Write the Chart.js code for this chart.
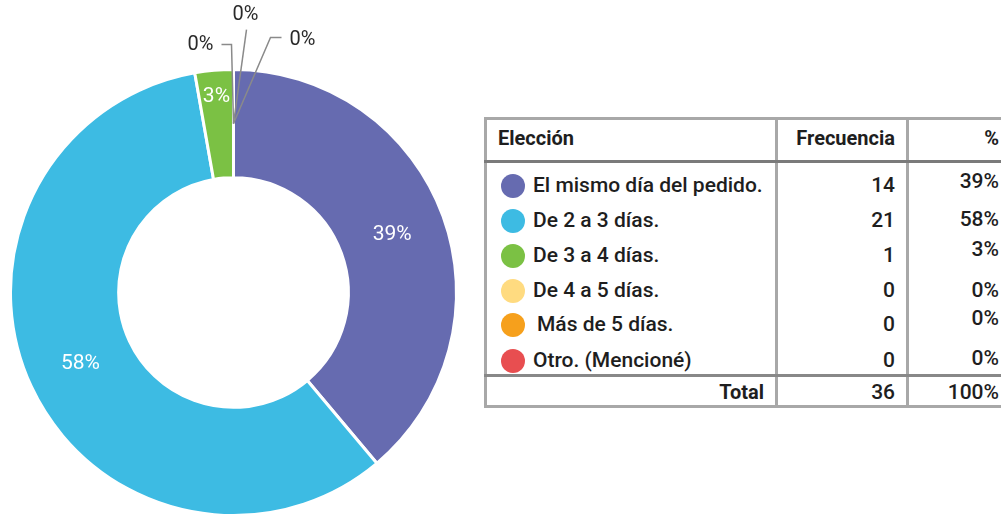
<!DOCTYPE html>
<html>
<head>
<meta charset="utf-8">
<script src="https://cdn.jsdelivr.net/npm/chart.js@4.4.1/dist/chart.umd.min.js"></script>
<style>
  html,body{margin:0;padding:0;background:#fff;width:1001px;height:517px;overflow:hidden;position:relative;font-family:Roboto,"Liberation Sans",sans-serif;color:#1e1e1e;}
  #chartBox{position:absolute;left:0;top:0;width:470px;height:517px;}
  .ln{position:absolute;background:#a8a8a8;}
  .t{position:absolute;white-space:nowrap;line-height:1;font-weight:500;}
  .b{font-weight:700;}
  .dot{position:absolute;width:24px;height:24px;border-radius:50%;}
</style>
</head>
<body>
<div id="chartBox"><canvas id="c" width="470" height="517"></canvas></div>
<div id="tbl"></div>
<script>
// ---- data ----
const categories = ["El mismo día del pedido.", "De 2 a 3 días.", "De 3 a 4 días.", "De 4 a 5 días.", "Más de 5 días.", "Otro. (Mencioné)"];
const frequencies = [14, 21, 1, 0, 0, 0];
const percentLabels = ["39%", "58%", "3%", "0%", "0%", "0%"];
const colors = ["#666bb0", "#3dbbe3", "#7bc144", "#ffdb80", "#f6a01c", "#e84e50"];
const headerLabels = ["Elección", "Frecuencia", "%"];
const totalLabels = ["Total", "36", "100%"];

// ---- slice labels plugin ----
const sliceLabels = {
  id: 'sliceLabels',
  afterDatasetsDraw(chart) {
    const ctx = chart.ctx;
    const meta = chart.getDatasetMeta(0);
    // leader line shapes for zero-value slices (relative to slice anchor)
    const leaders = {
      3: {pts: [[-2, -79], [-12, -79]], tx: -20, ty: -79, align: 'right'},
      4: {pts: [[13, -94]], tx: 12, ty: -109, align: 'center'},
      5: {pts: [[37, -86], [48, -86]], tx: 56, ty: -84, align: 'left'}
    };
    ctx.save();
    ctx.textBaseline = 'middle';
    meta.data.forEach((arc, i) => {
      const p = arc.getProps(['x', 'y', 'startAngle', 'endAngle', 'innerRadius', 'outerRadius'], true);
      const mid = (p.startAngle + p.endAngle) / 2;
      const share = frequencies[i] / frequencies.reduce((a, b) => a + b, 0);
      let r = (p.innerRadius + p.outerRadius) / 2;
      if (frequencies[i] > 0) {
        if (share < 0.05) r = p.outerRadius - 27;
        const x = p.x + Math.cos(mid) * r, y = p.y + Math.sin(mid) * r;
        ctx.fillStyle = '#ffffff';
        ctx.font = '400 21px Roboto, "Liberation Sans", sans-serif';
        ctx.textAlign = 'center';
        ctx.fillText(percentLabels[i], x, y);
      } else {
        const ax = p.x + Math.cos(mid) * r, ay = p.y + Math.sin(mid) * r;
        const L = leaders[i];
        ctx.strokeStyle = '#8a8a8a';
        ctx.lineWidth = 1.5;
        ctx.beginPath();
        ctx.moveTo(ax, ay);
        L.pts.forEach(q => ctx.lineTo(ax + q[0], ay + q[1]));
        ctx.stroke();
        ctx.fillStyle = '#2a2a2a';
        ctx.font = '400 20px Roboto, "Liberation Sans", sans-serif';
        ctx.textAlign = L.align;
        ctx.fillText(percentLabels[i], ax + L.tx, ay + L.ty);
      }
    });
    ctx.restore();
  }
};

new Chart(document.getElementById('c'), {
  type: 'doughnut',
  data: {
    labels: categories,
    datasets: [{
      data: frequencies,
      backgroundColor: colors,
      borderColor: '#ffffff',
      borderWidth: 3
    }]
  },
  options: {
    responsive: false,
    animation: false,
    cutout: '51.5%',
    layout: {padding: {top: 68, left: 8, right: 11, bottom: 0}},
    plugins: {legend: {display: false}, tooltip: {enabled: false}}
  },
  plugins: [sliceLabels]
});

// ---- table ----
(function () {
  const T = document.getElementById('tbl');
  function add(html) { T.insertAdjacentHTML('beforeend', html); }
  const L = 484, Tp = 117, B = 408, R = 1010;
  // frame
  add(`<div class="ln" style="left:${L}px;top:${Tp}px;width:${R - L}px;height:3px"></div>`);
  add(`<div class="ln" style="left:${L}px;top:${B - 3}px;width:${R - L}px;height:3px"></div>`);
  add(`<div class="ln" style="left:${L}px;top:${Tp}px;width:3px;height:${B - Tp}px"></div>`);
  add(`<div class="ln" style="left:775px;top:${Tp}px;width:3px;height:${B - Tp}px"></div>`);
  add(`<div class="ln" style="left:906px;top:${Tp}px;width:3px;height:${B - Tp}px"></div>`);
  add(`<div class="ln" style="left:${L}px;top:160px;width:${R - L}px;height:3px;background:#7a7a7a"></div>`);
  add(`<div class="ln" style="left:${L}px;top:374px;width:${R - L}px;height:3px;background:#888"></div>`);
  // header
  const hy = 128;
  add(`<div class="t b" style="left:498px;top:${hy}px;font-size:20px">${headerLabels[0]}</div>`);
  add(`<div class="t b" style="right:${1001 - 895}px;top:${hy}px;font-size:20px">${headerLabels[1]}</div>`);
  add(`<div class="t b" style="right:${1001 - 999}px;top:${hy}px;font-size:20px">${headerLabels[2]}</div>`);
  // rows
  const rowY = [186, 221, 256, 291, 325, 361];
  const pctY = [182, 220, 250, 291, 319, 359];
  categories.forEach((c, i) => {
    const y = rowY[i];
    add(`<div class="dot" style="left:501px;top:${y - 12}px;background:${colors[i]}"></div>`);
    add(`<div class="t" style="left:${i === 4 ? 537 : 533}px;top:${y - 11}px;font-size:21px">${c}</div>`);
    add(`<div class="t" style="right:${1001 - 895}px;top:${y - 11}px;font-size:21px">${frequencies[i]}</div>`);
    add(`<div class="t" style="right:${1001 - 999}px;top:${pctY[i] - 11}px;font-size:21px">${percentLabels[i]}</div>`);
  });
  // total
  const ty = 382;
  add(`<div class="t b" style="right:${1001 - 764}px;top:${ty}px;font-size:20px">${totalLabels[0]}</div>`);
  add(`<div class="t" style="right:${1001 - 895}px;top:${ty}px;font-size:21px">${totalLabels[1]}</div>`);
  add(`<div class="t" style="right:${1001 - 999}px;top:${ty}px;font-size:21px">${totalLabels[2]}</div>`);
})();
</script>
</body>
</html>
